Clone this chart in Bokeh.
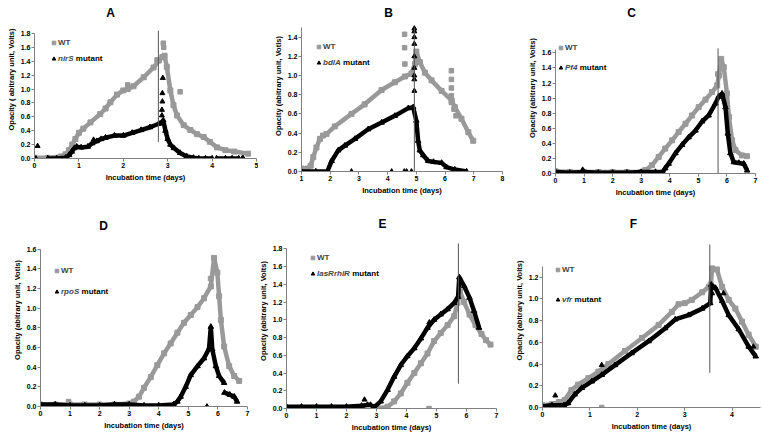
import numpy as np
from bokeh.plotting import figure
from bokeh.models import Legend, LegendItem, FixedTicker, NumeralTickFormatter, Label
from bokeh.layouts import row, column
from bokeh.embed import file_html
from bokeh.resources import INLINE

FONT = "Liberation Sans"
WT_COLOR = "#999999"
MU_COLOR = "#000000"
AXIS_COLOR = "#808080"
nan = float("nan")

X_LABEL = "Incubation time (days)"

# ---------------- Panel A (nirS) ----------------
a_wt_x = [0.0, 0.3, 0.6, 0.7, 0.78, 0.85, 0.92, 1.0, 1.1, 1.26, 1.48, 1.6, 1.71, 1.86, 2.0, 2.1,
          2.23, 2.46, 2.68, 2.8, 2.88, 2.93, 2.98, 3.06, 3.13, 3.21, 3.36, 3.51, 3.66, 3.81, 3.95,
          4.11, 4.3, 4.5, 4.81]
a_wt_y = [0.01, 0.01, 0.03, 0.06, 0.12, 0.2, 0.28, 0.37, 0.43, 0.52, 0.64, 0.72, 0.81, 0.92, 0.98, 1.0,
          1.04, 1.17, 1.31, 1.41, 1.46, 1.48, 1.32, 0.98, 0.77, 0.62, 0.48, 0.41, 0.35, 0.31, 0.24,
          0.16, 0.12, 0.1, 0.07]
a_wt_ox = [2.9, 2.91, 2.76, 3.28, 2.1]
a_wt_oy = [1.66, 1.6, 1.42, 0.96, 1.06]
a_mu_x = [0.3, 0.5, 0.7, 0.78, 0.84, 0.9, 0.95, 1.05, 1.2, 1.3, 1.4, 1.5, 1.6, 1.8, 2.0, 2.2, 2.4,
          2.6, 2.8, 2.88, 2.9, 2.95, 3.0, 3.06, 3.14, 3.28, 3.43, 3.58, 3.7, 3.85, 4.0, nan,
          4.1, 4.3, 4.45, 4.6, nan, 4.68, 4.7]
a_mu_y = [0.0, 0.0, 0.01, 0.05, 0.1, 0.15, 0.17, 0.16, 0.17, 0.22, 0.25, 0.28, 0.3, 0.33, 0.33, 0.37, 0.41,
          0.45, 0.5, 0.53, 0.55, 0.4, 0.28, 0.2, 0.15, 0.08, 0.03, 0.01, 0.0, 0.0, 0.0, nan,
          0.0, 0.0, 0.0, 0.0, nan, 0.0, 0.0]
a_mu_ox = [0.03, 0.07, 2.87, 2.87, 2.88, 2.88, 2.89, 1.33]
a_mu_oy = [0.0, 0.18, 0.62, 0.7, 0.82, 0.94, 1.16, 0.27]
a_vline = (2.79, 0.24, 1.84)
a_xticks = [0, 1, 2, 3, 4, 5]
a_yticks = [0.0, 0.2, 0.4, 0.6, 0.8, 1.0, 1.2, 1.4, 1.6, 1.8]

# ---------------- Panel B (bdlA) ----------------
b_wt_x = [1.0, 1.2, 1.32, 1.41, 1.52, 1.64, 1.75, 1.87, 2.16, 2.74, 3.2, 3.79, 4.25, 4.6, 4.83,
          4.95, 5.0, 5.12, 5.3, 5.53, 5.88, 6.23, 6.34, 6.57, 6.81, 6.98]
b_wt_y = [0.03, 0.03, 0.06, 0.15, 0.25, 0.34, 0.375, 0.39, 0.47, 0.6, 0.7, 0.85, 0.93, 0.99, 1.02,
          1.12, 1.25, 1.14, 1.03, 0.95, 0.84, 0.74, 0.67, 0.55, 0.41, 0.32]
b_wt_ox = [4.59, 4.59, 4.6, 6.22, 6.22, 6.22, 6.22, 6.22, 6.31, 6.38]
b_wt_oy = [1.43, 1.29, 1.12, 1.05, 0.96, 0.87, 0.79, 0.72, 0.65, 0.58]
b_mu_x = [1.0, 1.5, 1.9, 2.05, 2.28, 2.51, 2.86, 3.32, 3.79, 4.25, 4.72, 4.89, 5.0, 5.06, 5.12,
          5.24, 5.41, 5.6, 5.88, 6.05, 6.34, 6.75]
b_mu_y = [0.0, 0.0, 0.0, 0.11, 0.22, 0.27, 0.34, 0.44, 0.51, 0.58, 0.66, 0.67, 0.53, 0.32, 0.22,
          0.17, 0.11, 0.1, 0.09, 0.045, 0.02, 0.0]
b_mu_ox = [2.74, 4.14, 4.58, 4.66, 4.83, 4.93, 4.93, 4.93, 4.93, 4.93, 4.93, 4.93, 4.93, 4.93]
b_mu_oy = [0.0, 0.0, 0.0, 0.0, 0.0, 0.84, 0.96, 1.0, 1.08, 1.2, 1.33, 1.4, 1.46, 1.49]
b_vline = (4.93, 0.0, 1.5)
b_xticks = [1, 2, 3, 4, 5, 6, 7, 8]
b_yticks = [0.0, 0.2, 0.4, 0.6, 0.8, 1.0, 1.2, 1.4]

# ---------------- Panel C (Pf4) ----------------
c_wt_x = [0.0, 0.5, 1.0, 1.5, 2.0, 2.5, 3.0, 3.14, 3.38, 3.61, 3.84, 4.08, 4.31, 4.55, 4.78, 5.01,
          5.25, 5.48, 5.66, 5.72, 5.8, 5.89, 6.0, 6.07, 6.18, 6.3, 6.53, 6.7]
c_wt_y = [0.03, 0.02, 0.02, 0.02, 0.02, 0.02, 0.02, 0.045, 0.11, 0.22, 0.33, 0.44, 0.55, 0.66, 0.77, 0.88,
          0.98, 1.08, 1.17, 1.3, 1.52, 1.41, 1.06, 0.75, 0.44, 0.31, 0.24, 0.23]
c_wt_ox = [5.68]
c_wt_oy = [1.32]
c_mu_x = [0.0, 0.5, 1.0, 1.5, 2.0, 2.5, 3.0, 3.5, 3.75, 3.84, 3.96, 4.2, 4.43, 4.66, 4.9, 5.13, 5.36,
          5.6, 5.71, 5.83, 5.95, 6.03, 6.12, 6.24, 6.42, 6.59, 6.71]
c_mu_y = [0.02, 0.01, 0.02, 0.01, 0.01, 0.01, 0.02, 0.02, 0.02, 0.07, 0.13, 0.27, 0.38, 0.48, 0.57, 0.69, 0.77,
          0.93, 1.02, 1.06, 0.88, 0.53, 0.27, 0.15, 0.14, 0.13, 0.04]
c_mu_ox = [0.95]
c_mu_oy = [0.05]
c_vline = (5.69, 0.0, 1.66)
c_xticks = [0, 1, 2, 3, 4, 5, 6, 7]
c_yticks = [0.0, 0.2, 0.4, 0.6, 0.8, 1.0, 1.2, 1.4, 1.6]

# ---------------- Panel D (rpoS) ----------------
d_wt_x = [0.0, 0.5, 1.0, 1.5, 2.0, 2.5, 3.0, 3.16, 3.33, 3.5, 3.73, 3.95, 4.18, 4.4, 4.63, 4.85,
          5.08, 5.31, 5.53, 5.76, 5.87, 5.98, 6.04, 6.1, 6.21, 6.38, 6.55, 6.72]
d_wt_y = [0.02, 0.02, 0.02, 0.02, 0.02, 0.02, 0.03, 0.05, 0.1, 0.19, 0.3, 0.42, 0.54, 0.64, 0.75, 0.85,
          0.93, 1.01, 1.1, 1.22, 1.51, 1.36, 1.12, 0.88, 0.61, 0.41, 0.31, 0.26]
d_wt_ox = [5.75, 0.95]
d_wt_oy = [1.3, 0.05]
d_mu_x = [0.0, 0.5, 1.0, 1.5, 2.0, 2.5, 3.0, 3.5, 4.0, 4.5, 4.63, 4.74, 4.91, 5.08, 5.31, 5.53, 5.7,
          5.76, 5.81, 5.93, 6.04, 6.21, nan, 6.22, 6.4, 6.55, 6.65]
d_mu_y = [0.02, 0.02, 0.01, 0.01, 0.01, 0.02, 0.02, 0.01, 0.01, 0.02, 0.05, 0.1, 0.2, 0.32, 0.41, 0.49, 0.59,
          0.81, 0.58, 0.41, 0.31, 0.24, nan, 0.14, 0.12, 0.1, 0.05]
d_mu_ox = [5.63]
d_mu_oy = [0.0]
d_xticks = [0, 1, 2, 3, 4, 5, 6, 7]
d_yticks = [0.0, 0.2, 0.4, 0.6, 0.8, 1.0, 1.2, 1.4, 1.6]

# ---------------- Panel E (lasRrhlR) ----------------
e_wt_x = [3.0, 3.14, 3.37, 3.59, 3.81, 4.03, 4.26, 4.48, 4.7, 4.92, 5.14, 5.37, 5.59, 5.7, 5.78,
          5.92, 6.1, 6.3, 6.5, 6.65, 6.8]
e_wt_y = [0.0, 0.0, 0.02, 0.08, 0.17, 0.29, 0.4, 0.51, 0.62, 0.76, 0.85, 0.94, 1.04, 1.19, 1.32,
          1.2, 1.06, 0.94, 0.84, 0.77, 0.72]
e_wt_ox = [4.75]
e_wt_oy = [0.0]
e_mu_x = [0.0, 0.5, 1.0, 1.5, 2.0, 2.5, 2.7, 2.8, 2.92, 3.14, 3.37, 3.59, 3.81, 4.03, 4.26, 4.48, 4.7,
          4.92, 5.14, 5.37, 5.59, 5.72, 5.76, 5.92, 6.1, 6.25, 6.42]
e_mu_y = [0.02, 0.02, 0.02, 0.02, 0.02, 0.03, 0.04, 0.04, 0.015, 0.08, 0.21, 0.36, 0.49, 0.59, 0.68, 0.79, 0.91,
          1.0, 1.06, 1.12, 1.19, 1.26, 1.48, 1.38, 1.25, 1.1, 0.91]
e_mu_ox = [2.6, 4.76]
e_mu_oy = [0.1, 0.97]
e_vline = (5.73, 0.28, 1.86)
e_xticks = [0, 1, 2, 3, 4, 5, 6, 7]
e_yticks = [0.0, 0.2, 0.4, 0.6, 0.8, 1.0, 1.2, 1.4, 1.6, 1.8]

# ---------------- Panel F (vfr) ----------------
f_wt_x = [0.0, 0.2, 0.35, 0.47, 0.61, 0.75, 0.97, 1.18, 1.39, 1.74, 2.1, 2.45, 2.73, 2.87, 3.0,
          3.15, 3.37, 3.51, 3.55, 3.58, 3.68, 3.79, 3.93, 4.07, 4.21, 4.35, 4.5]
f_wt_y = [0.02, 0.03, 0.05, 0.07, 0.16, 0.21, 0.27, 0.33, 0.4, 0.52, 0.64, 0.76, 0.88, 0.95, 0.96,
          0.99, 1.06, 1.11, 1.13, 1.28, 1.27, 1.11, 0.99, 0.91, 0.79, 0.67, 0.56]
f_wt_ox = [1.25]
f_wt_oy = [0.0]
f_mu_x = [0.0, 0.2, 0.45, 0.54, 0.68, 0.83, 1.04, 1.25, 1.53, 1.88, 2.24, 2.59, 2.8, 3.08, 3.37,
          3.54, 3.56, 3.65, 3.79, 3.93, 4.14, 4.35, 4.5]
f_mu_y = [0.01, 0.02, 0.02, 0.04, 0.12, 0.18, 0.24, 0.3, 0.39, 0.5, 0.61, 0.73, 0.81, 0.85, 0.91,
          0.96, 1.13, 1.1, 0.98, 0.85, 0.72, 0.56, 0.47]
f_mu_ox = [0.27, 1.25, 3.58, 3.82, 4.45]
f_mu_oy = [0.11, 0.39, 1.05, 1.05, 0.56]
f_vline = (3.53, 0.32, 1.5)
f_xticks = [0, 1, 2, 3, 4]
f_yticks = [0.0, 0.2, 0.4, 0.6, 0.8, 1.0, 1.2]

# approximate advance widths (per 1000 em) of bold Arial-metric glyphs, for placing
# the upright "mutant" right after the italic gene name
GLYPH_W = {"n": 611, "i": 278, "r": 389, "S": 667, "b": 611, "d": 611, "l": 278, "A": 722,
           "P": 667, "f": 333, "4": 556, "p": 611, "o": 611, "a": 556, "s": 556, "R": 722,
           "h": 611, "v": 556, " ": 278}
LEG_SIZE = 8.0


def text_width(s, size):
    return sum(GLYPH_W.get(ch, 600) for ch in s) * size / 1000.0


def style_axis(ax):
    ax.axis_line_color = AXIS_COLOR
    ax.axis_line_width = 1
    ax.major_tick_line_color = AXIS_COLOR
    ax.major_tick_out = 3
    ax.major_tick_in = 0
    ax.minor_tick_line_color = None
    ax.major_label_text_font = FONT
    ax.major_label_text_font_size = "7px"
    ax.major_label_text_font_style = "bold"
    ax.major_label_text_color = "#000000"
    ax.major_label_standoff = 1
    ax.axis_label_text_font = FONT
    ax.axis_label_text_font_size = "7.5px"
    ax.axis_label_text_font_style = "bold"
    ax.axis_label_text_color = "#000000"
    ax.axis_label_standoff = 2


def leg_kwargs(style):
    return dict(padding=0, margin=0, border_line_color=None, background_fill_alpha=0,
                glyph_width=9, glyph_height=11, label_height=10, label_standoff=0,
                label_text_font=FONT, label_text_font_size="%gpx" % LEG_SIZE,
                label_text_font_style=style)


def make_panel(letter, gene, ylabel, xr, yr, ybounds, xticks, yticks,
               wt_x, wt_y, wt_ox, wt_oy, mu_x, mu_y, mu_ox, mu_oy, vline, g):
    p = figure(width=g["w"], height=g["h"], x_range=xr, y_range=yr,
               output_backend="svg", toolbar_location=None, frame_align=False,
               min_border_left=g["bl"], min_border_right=g["br"],
               min_border_top=0, min_border_bottom=g["bb"])
    p.outline_line_color = None
    p.grid.visible = False
    p.background_fill_color = "white"
    p.border_fill_color = "white"

    style_axis(p.xaxis[0])
    style_axis(p.yaxis[0])
    p.xaxis.ticker = FixedTicker(ticks=xticks)
    p.yaxis.ticker = FixedTicker(ticks=yticks)
    p.yaxis.formatter = NumeralTickFormatter(format="0.0")
    p.yaxis.bounds = ybounds
    p.xaxis.axis_label = X_LABEL
    p.yaxis.axis_label = ylabel

    wx = np.asarray(wt_x, dtype=float)
    wy = np.asarray(wt_y, dtype=float)
    mx = np.asarray(mu_x, dtype=float)
    my = np.asarray(mu_y, dtype=float)

    p.line(wx, wy, line_color=WT_COLOR, line_width=4.5)
    wt_r = p.scatter(wx, wy, marker="square", size=5, color=WT_COLOR)
    p.scatter(np.asarray(wt_ox, dtype=float), np.asarray(wt_oy, dtype=float),
              marker="square", size=4.5, color=WT_COLOR)

    p.line(mx, my, line_color=MU_COLOR, line_width=4.5)
    mu_r = p.scatter(mx, my, marker="triangle", size=5.5, color=MU_COLOR)
    p.scatter(np.asarray(mu_ox, dtype=float), np.asarray(mu_oy, dtype=float),
              marker="triangle", size=5, color=MU_COLOR)

    if vline is not None:
        p.segment(x0=[vline[0]], y0=[vline[1]], x1=[vline[0]], y1=[vline[2]],
                  line_color="#555555", line_width=1)

    lx, ly = g["leg"]
    item_h = 11
    # WT entry (upper) and mutant entry (lower, gene name in italics)
    p.add_layout(Legend(items=[LegendItem(label="WT", renderers=[wt_r])],
                        location=(lx, ly + item_h + g["ls"]), **leg_kwargs("bold")))
    p.add_layout(Legend(items=[LegendItem(label=gene, renderers=[mu_r])],
                        location=(lx, ly), **leg_kwargs("bold italic")))
    p.add_layout(Label(x=lx + 9 + text_width(gene, LEG_SIZE) + 1.8, y=ly + item_h / 2.0 + 0.5,
                       x_units="screen", y_units="screen", text="mutant",
                       text_align="left", text_baseline="middle",
                       text_font=FONT, text_font_size="%gpx" % LEG_SIZE,
                       text_font_style="bold", text_color="#000000"))

    # panel letter, placed in screen units from the frame's bottom-left corner
    p.add_layout(Label(x=g["tx"], y=g["ty"], x_units="screen", y_units="screen",
                       text=letter, text_align="center", text_baseline="middle",
                       text_font=FONT, text_font_size="12px", text_font_style="bold",
                       text_color="#000000"))
    return p


pa = make_panel("A", "nirS", "Opacity ( abitrary unit, Volts)", (0, 5), (0, 2.275), (0, 1.8),
                a_xticks, a_yticks,
                a_wt_x, a_wt_y, a_wt_ox, a_wt_oy, a_mu_x, a_mu_y, a_mu_ox, a_mu_oy, a_vline,
                dict(w=258, h=213, bl=34, br=2, bb=55, tx=76, ty=146, leg=(15, 94), ls=5))
pb = make_panel("B", "bdlA", "Opacity (abitrary unit, Votls)", (1, 8), (0, 1.782), (0, 1.5),
                b_xticks, b_yticks,
                b_wt_x, b_wt_y, b_wt_ox, b_wt_oy, b_mu_x, b_mu_y, b_mu_ox, b_mu_oy, b_vline,
                dict(w=250, h=213, bl=43, br=6, bb=42, tx=87, ty=159, leg=(13, 103), ls=5))
pc = make_panel("C", "Pf4", "Opacity  (abitrary unit, Volts)", (0, 7), (0, 2.295), (0, 1.65),
                c_xticks, c_yticks,
                c_wt_x, c_wt_y, c_wt_ox, c_wt_oy, c_mu_x, c_mu_y, c_mu_ox, c_mu_oy, c_vline,
                dict(w=254, h=213, bl=47, br=7, bb=40, tx=76, ty=161, leg=(1, 100), ls=9))
pd_ = make_panel("D", "rpoS", "Opacity (abitrary unit, Votls)", (0, 7), (0, 1.961), (0, 1.6),
                 d_xticks, d_yticks,
                 d_wt_x, d_wt_y, d_wt_ox, d_wt_oy, d_mu_x, d_mu_y, d_mu_ox, d_mu_oy, None,
                 dict(w=254, h=225, bl=40, br=7, bb=32, tx=63, ty=181, leg=(12, 109), ls=10))
pe = make_panel("E", "lasRrhlR", "Opacity (abitrary unit, Volts)", (0, 7), (0, 2.198), (0, 1.8),
                e_xticks, e_yticks,
                e_wt_x, e_wt_y, e_wt_ox, e_wt_oy, e_mu_x, e_mu_y, e_mu_ox, e_mu_oy, e_vline,
                dict(w=254, h=225, bl=32, br=12, bb=30, tx=96, ty=185, leg=(22, 129), ls=5))
pf = make_panel("F", "vfr", "Opacity (abitrary unit, Volts)", (0, 4.6), (0, 1.785), (0, 1.3),
                f_xticks, f_yticks,
                f_wt_x, f_wt_y, f_wt_ox, f_wt_oy, f_mu_x, f_mu_y, f_mu_ox, f_mu_oy, f_vline,
                dict(w=254, h=225, bl=34, br=2, bb=31, tx=91, ty=184, leg=(11, 102), ls=19))

layout = column(row(pa, pb, pc), row(pd_, pe, pf))

open("out.html", "w").write(file_html(layout, INLINE))
